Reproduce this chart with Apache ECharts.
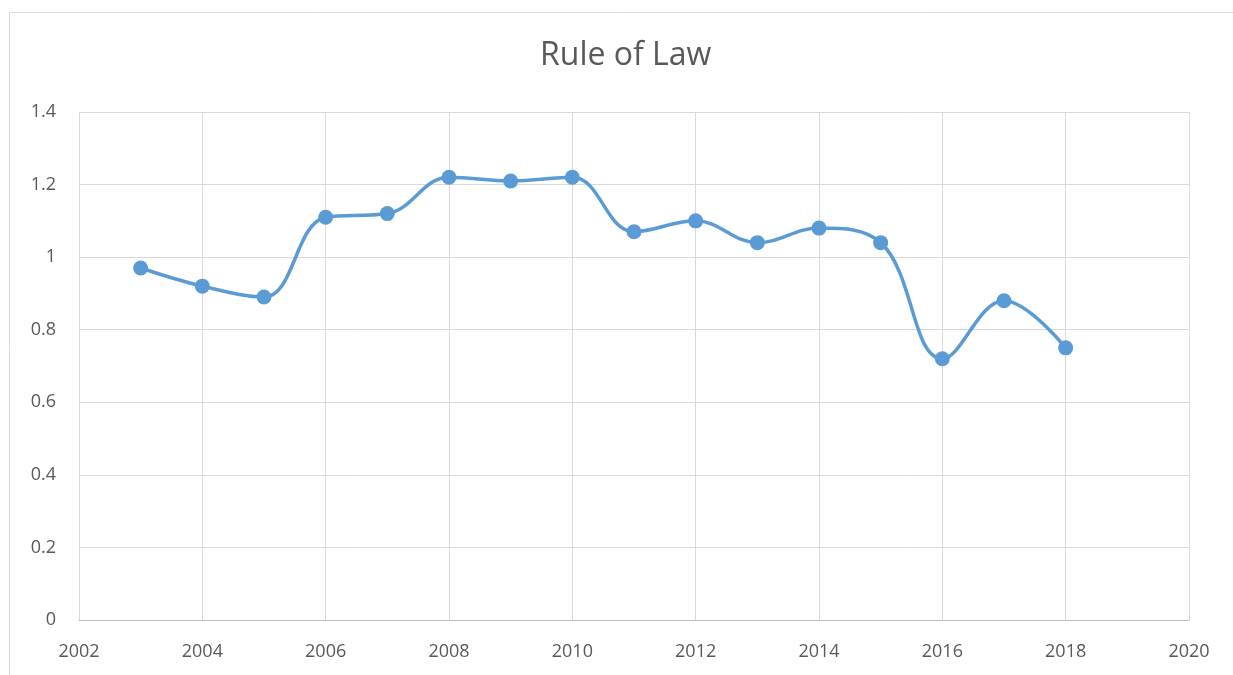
<!DOCTYPE html>
<html>
<head>
<meta charset="utf-8">
<script src="https://cdn.jsdelivr.net/npm/echarts@6/dist/echarts.min.js"></script>
<style>html,body{margin:0;padding:0;background:#fff;}#c{width:1233px;height:675px;}</style>
</head>
<body>
<div id="c"></div>
<script>
const years = [2003,2004,2005,2006,2007,2008,2009,2010,2011,2012,2013,2014,2015,2016,2017,2018];
const values = [0.97,0.92,0.89,1.11,1.12,1.22,1.21,1.22,1.07,1.10,1.04,1.08,1.04,0.72,0.88,0.75];
const titleText = 'Rule of Law';

const chart = echarts.init(document.getElementById('c'), null, {renderer:'canvas'});
const font = '"Open Sans", "Liberation Sans", sans-serif';
chart.setOption({
  animation: false,
  backgroundColor: '#fff',
  graphic: [{
    type: 'rect', silent: true, z: -1,
    shape: {x: 9.5, y: 12.5, width: 1300, height: 700},
    style: {fill: 'none', stroke: '#d9d9d9', lineWidth: 1}
  }, {
    type: 'text', silent: true, left: 540, top: 40,
    style: {text: titleText, fontFamily: font, fontSize: 32, fill: '#595959'}
  }],
  grid: {left: 79, right: 44, top: 112, bottom: 55},
  xAxis: {
    type: 'value', min: 2002, max: 2020, interval: 2,
    axisLine: {show: true, lineStyle: {color: '#bfbfbf', width: 1}},
    axisTick: {show: false},
    splitLine: {show: true, lineStyle: {color: '#d9d9d9', width: 1}},
    axisLabel: {color: '#595959', fontSize: 18, fontFamily: font, margin: 23,
      formatter: v => String(v)}
  },
  yAxis: {
    type: 'value', min: 0, max: 1.4, interval: 0.2,
    axisLine: {show: false},
    axisTick: {show: false},
    splitLine: {show: true, lineStyle: {color: '#d9d9d9', width: 1}},
    axisLabel: {color: '#595959', fontSize: 18, fontFamily: font, margin: 23,
      formatter: v => String(Math.round(v*10)/10)}
  },
  series: [{
    type: 'line',
    data: years.map((y,i) => [y, values[i]]),
    smooth: 0.4,
    symbol: 'circle', symbolSize: 15,
    lineStyle: {color: '#5b9bd5', width: 3.5},
    itemStyle: {color: '#5b9bd5'}
  }]
});
</script>
</body>
</html>
